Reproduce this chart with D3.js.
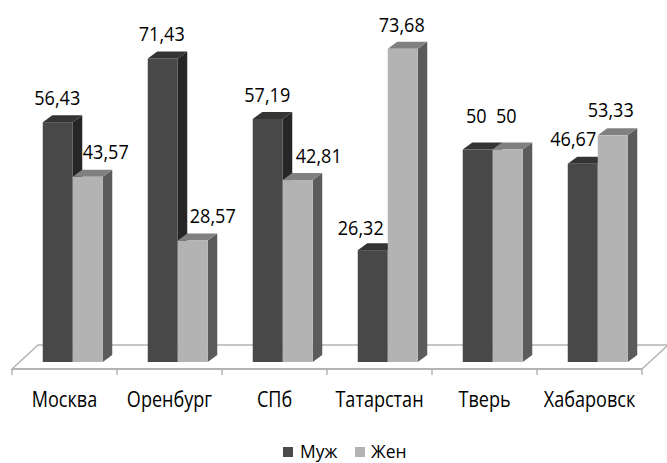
<!DOCTYPE html>
<html>
<head>
<meta charset="utf-8">
<script src="https://cdn.jsdelivr.net/npm/d3@7"></script>
<style>
  html, body { margin: 0; padding: 0; background: #fff; }
  svg { display: block; }
  text { font-family: "Open Sans", "Liberation Sans", sans-serif; fill: #000; }
</style>
</head>
<body>
<svg id="chart" width="667" height="463"></svg>
<script>
// Regions and share of respondents (%) by sex
const categories = ["Москва", "Оренбург", "СПб", "Татарстан", "Тверь", "Хабаровск"];
const seriesNames = ["Муж", "Жен"];
const male   = [56.43, 71.43, 57.19, 26.32, 50, 46.67];
const female = [43.57, 28.57, 42.81, 73.68, 50, 53.33];
const valueLabels = {
  "Муж": ["56,43", "71,43", "57,19", "26,32", "50", "46,67"],
  "Жен": ["43,57", "28,57", "42,81", "73,68", "50", "53,33"]
};

// Label nudges (dx, dy) so that value labels do not collide with neighbouring bars
const labelNudge = {
  "Муж": [[-0.5, 0], [-1, 0], [-0.5, 0], [-12, 2], [-1.5, -9.5], [-9.5, 0]],
  "Жен": [[18, -0.5], [20, 0], [21, 0.5], [-1, 0], [-1.5, -9.5], [-2, -1]]
};

const colors = {
  "Муж": { front: "#484848", top: "#343434", side: "#262626", key: "#4a4a4a" },
  "Жен": { front: "#b3b3b3", top: "#808080", side: "#5b5b5b", key: "#b3b3b3" }
};

// Condensed look for all text
const squeeze = 0.88;

const svg = d3.select("#chart");

// Floor geometry (oblique projection)
const floorFrontY = 369;
const floorDepth = { dx: 26, dy: -24 };
const barDepth = { dx: 9.5, dy: -7 };
const barW = 30;

const x = d3.scaleBand().domain(categories).range([12, 642]).paddingInner(0).paddingOuter(0);
const baseY = floorFrontY - 7;           // bars stand in the middle of the floor depth
const y = d3.scaleLinear().domain([0, 100]).range([baseY, baseY - 425]);

// Floor
const fl = 12, fr = 642;
const floorPts = [
  [fl, floorFrontY],
  [fl + floorDepth.dx, floorFrontY + floorDepth.dy],
  [fr + floorDepth.dx, floorFrontY + floorDepth.dy],
  [fr, floorFrontY]
];
svg.append("polygon")
  .attr("points", floorPts.map(p => p.join(",")).join(" "))
  .attr("fill", "#fff")
  .attr("stroke", "#b4b4b4")
  .attr("stroke-width", 1.5);
svg.append("line")
  .attr("x1", fl).attr("x2", fr)
  .attr("y1", floorFrontY).attr("y2", floorFrontY)
  .attr("stroke", "#b4b4b4").attr("stroke-width", 2);

// Category tick marks at band boundaries
const tickXs = categories.map(c => x(c)).concat([x(categories[categories.length - 1]) + x.bandwidth()]);
svg.selectAll("line.tick").data(tickXs).join("line")
  .attr("class", "tick")
  .attr("x1", d => d).attr("x2", d => d)
  .attr("y1", floorFrontY).attr("y2", floorFrontY + 6)
  .attr("stroke", "#b4b4b4").attr("stroke-width", 1.5);

// Bars
const seriesData = { "Муж": male, "Жен": female };
const shiftX = floorDepth.dx / 2 - barDepth.dx / 2;
const pairOffset = (x.bandwidth() - 2 * barW) / 2 + shiftX;

const bars = [];
categories.forEach((c, i) => {
  seriesNames.forEach((s, j) => {
    bars.push({ cat: c, i, s, j, v: seriesData[s][i] });
  });
});

const g = svg.append("g");
bars.forEach(b => {
  const x0 = x(b.cat) + pairOffset + b.j * barW;
  const x1 = x0 + barW;
  const yt = y(b.v), yb = y(0);
  const c = colors[b.s];
  const dx = barDepth.dx, dy = barDepth.dy;
  const bg = g.append("g");
  bg.append("polygon")
    .attr("points", [[x1, yt], [x1 + dx, yt + dy], [x1 + dx, yb + dy], [x1, yb]].map(p => p.join(",")).join(" "))
    .attr("fill", c.side);
  bg.append("polygon")
    .attr("points", [[x0, yt], [x1, yt], [x1 + dx, yt + dy], [x0 + dx, yt + dy]].map(p => p.join(",")).join(" "))
    .attr("fill", c.top);
  bg.append("rect")
    .attr("x", x0).attr("y", yt)
    .attr("width", barW).attr("height", yb - yt)
    .attr("fill", c.front);
});

// Value labels
svg.append("g").selectAll("text").data(bars).join("text")
  .attr("transform", b => {
    const tx = x(b.cat) + pairOffset + b.j * barW + barW / 2 + labelNudge[b.s][b.i][0];
    const ty = y(b.v) - 17.3 + labelNudge[b.s][b.i][1];
    return `translate(${tx},${ty}) scale(${squeeze},1)`;
  })
  .attr("text-anchor", "middle")
  .attr("font-size", 20.5)
  .text(b => valueLabels[b.s][b.i]);

// Category labels
svg.append("g").selectAll("text").data(categories).join("text")
  .attr("transform", c => `translate(${x(c) + x.bandwidth() / 2},406.5) scale(${squeeze - 0.02},1)`)
  .attr("text-anchor", "middle")
  .attr("font-size", 21)
  .text(c => c);

// Legend
const legend = svg.append("g");
const legendItems = [
  { name: "Муж", sx: 283, tx: 300 },
  { name: "Жен", sx: 355, tx: 371 }
];
legendItems.forEach(it => {
  legend.append("rect")
    .attr("x", it.sx).attr("y", 447)
    .attr("width", 10).attr("height", 10)
    .attr("fill", colors[it.name].key);
  legend.append("text")
    .attr("transform", `translate(${it.tx},457.5) scale(${squeeze + 0.04},1)`)
    .attr("font-size", 19)
    .text(it.name);
});
</script>
</body>
</html>
